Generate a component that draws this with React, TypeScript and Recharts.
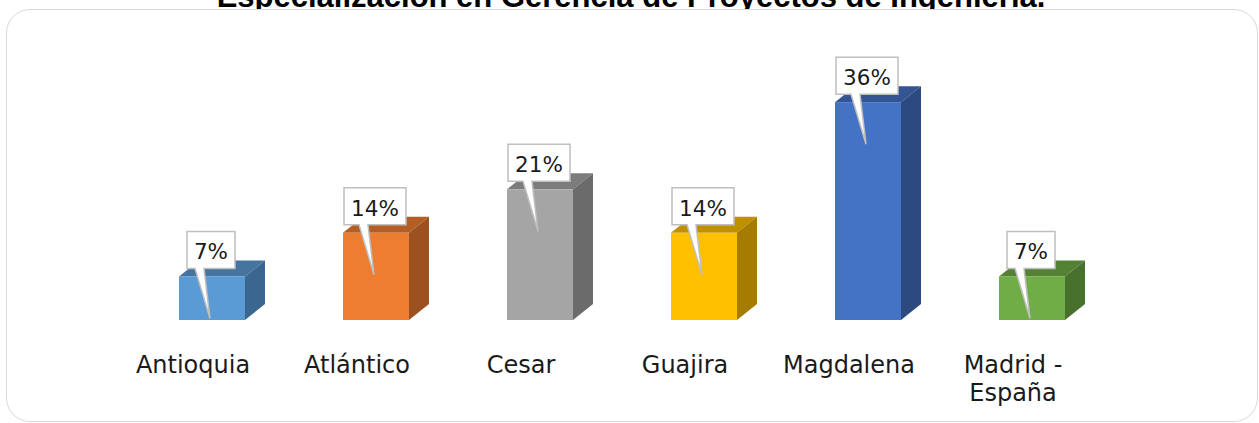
import React from "react";
import { Bar, BarChart, LabelList, XAxis, YAxis } from "recharts";

const categories = ["Antioquia", "Atlántico", "Cesar", "Guajira", "Magdalena", "Madrid - España"];
const shares = [7.14, 14.29, 21.43, 14.29, 35.71, 7.14];
const shareLabels = ["7%", "14%", "21%", "14%", "36%", "7%"];

const frontColors = ["#5b9bd5", "#ed7d31", "#a5a5a5", "#ffc000", "#4472c4", "#70ad47"];
const topColors = ["#44749f", "#b25e25", "#7c7c7c", "#bf9000", "#335593", "#548235"];
const sideColors = ["#3a6690", "#9b5220", "#6b6b6b", "#a67c00", "#2c4a80", "#49712e"];

const data = categories.map((name, i) => ({ name, value: shares[i], label: shareLabels[i] }));

const FONT = "'Century Gothic', 'DejaVu Sans', sans-serif";
const DEPTH_X = 20;
const DEPTH_Y = 16;

const Box3D = (props: any) => {
  const { x, y, width, height, index } = props;
  const fw = width - DEPTH_X;
  const b = y + height;
  return (
    <g>
      <polygon
        points={`${x},${y} ${x + DEPTH_X},${y - DEPTH_Y} ${x + width},${y - DEPTH_Y} ${x + fw},${y}`}
        fill={topColors[index]}
      />
      <polygon
        points={`${x + fw},${y} ${x + width},${y - DEPTH_Y} ${x + width},${b - DEPTH_Y} ${x + fw},${b}`}
        fill={sideColors[index]}
      />
      <rect x={x} y={y} width={fw} height={height} fill={frontColors[index]} />
    </g>
  );
};

// callout with a pointer tail dropping into the bar front
const Callout = (props: any) => {
  const { x, y, width, index } = props;
  const text = shareLabels[index];
  const fc = x + (width - DEPTH_X) / 2;
  const bc = fc - 1;
  const w = text.length === 2 ? 48 : 62;
  const h = 37;
  const bottom = y - 8;
  const top = bottom - h;
  const left = bc - w / 2;
  const right = bc + w / 2;
  const d = `M${left},${top} H${right} V${bottom} H${bc - 7} L${bc - 1},${bottom + 50} L${bc - 16},${bottom} H${left} Z`;
  return (
    <g>
      <path d={d} fill="#ffffff" stroke="#bfbfbf" strokeWidth={1.5} />
      <text x={bc} y={bottom - 9} textAnchor="middle" fontFamily={FONT} fontSize={21.5} fill="#1a1a1a">
        {text}
      </text>
    </g>
  );
};

const CategoryTick = (props: any) => {
  const { x, y, payload } = props;
  const v: string = payload.value;
  const lines = v.includes(" - ") ? [v.split(" - ")[0] + " -", v.split(" - ")[1]] : [v];
  return (
    <text x={x - 29} y={y + 53} textAnchor="middle" fontFamily={FONT} fontSize={24} fill="#1a1a1a">
      {lines.map((l, i) => (
        <tspan key={i} x={x - 29} dy={i === 0 ? 0 : 28}>
          {l}
        </tspan>
      ))}
    </text>
  );
};

export default function App() {
  return (
    <div style={{ position: "absolute", left: 0, top: 0, width: 1259, height: 423, overflow: "hidden", background: "#fff" }}>
      <svg width={1259} height={30} style={{ position: "absolute", left: 0, top: 0 }}>
        <text
          x={631}
          y={7}
          textAnchor="middle"
          fontFamily="'Liberation Sans', Arial, sans-serif"
          fontWeight="bold"
          fontSize={31}
          fill="#000"
        >
          Especialización en Gerencia de Proyectos de Ingeniería.
        </text>
      </svg>
      <div
        style={{
          position: "absolute",
          left: 6,
          top: 9,
          width: 1252,
          height: 413,
          boxSizing: "border-box",
          border: "1.5px solid #d9d9d9",
          borderRadius: 24,
          background: "#fff",
        }}
      />
      <div style={{ position: "absolute", left: 0, top: 0 }}>
        <BarChart width={1259} height={423} data={data} margin={{ top: 76, right: 135, bottom: 0, left: 140 }}>
          <XAxis
            dataKey="name"
            height={103}
            axisLine={false}
            tickLine={false}
            tickSize={0}
            tickMargin={0}
            interval={0}
            tick={<CategoryTick />}
          />
          <YAxis hide domain={[0, 40]} />
          <Bar dataKey="value" barSize={86} shape={<Box3D />} isAnimationActive={false}>
            <LabelList dataKey="label" content={<Callout />} />
          </Bar>
        </BarChart>
      </div>
    </div>
  );
}
